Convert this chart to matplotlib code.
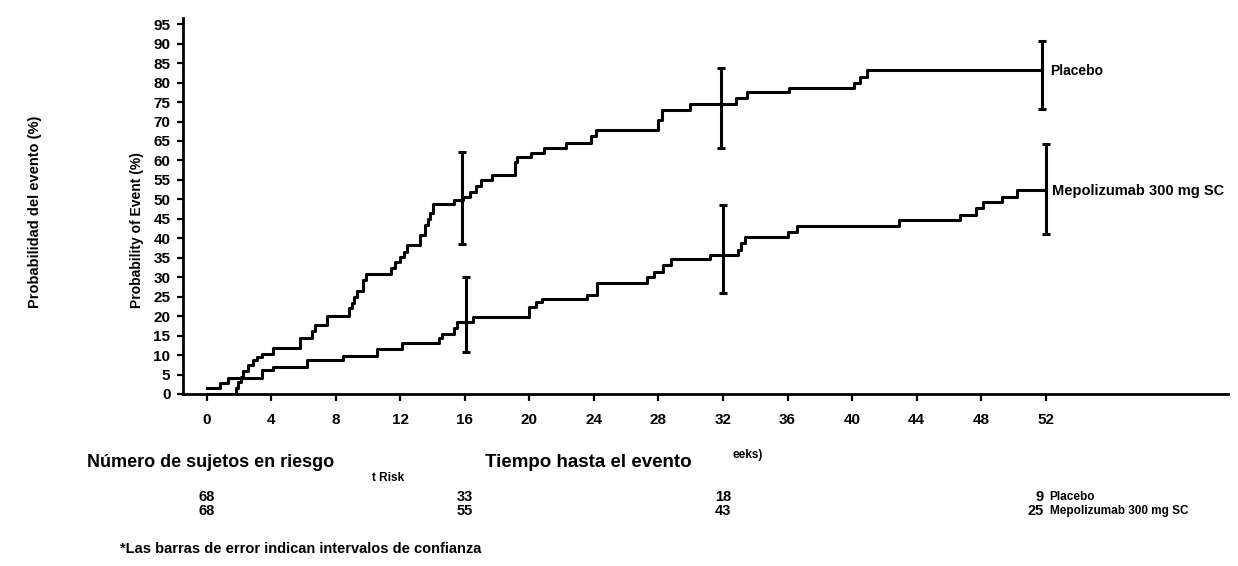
import numpy as np
import matplotlib
matplotlib.use('Agg')
import matplotlib.pyplot as plt
from matplotlib.transforms import blended_transform_factory

plt.rcParams['font.family'] = ['Liberation Sans', 'DejaVu Sans']
plt.rcParams['font.weight'] = 'bold'

# Kaplan-Meier style step curves (weeks, probability of event %)
placebo_t = [0, 1.8, 1.95, 2.1, 2.25, 2.58, 2.89, 3.1, 3.41, 4.13, 5.78, 6.5, 6.7,
             7.43, 8.8, 9.0, 9.15, 9.3, 9.7, 9.9, 11.4, 11.7, 12.0, 12.2, 12.4,
             13.2, 13.5, 13.7, 13.85, 14.05, 15.3, 15.9, 16.3, 16.7, 17.0, 17.66,
             19.1, 19.25, 20.1, 20.9, 22.3, 23.85, 24.1, 28.0, 28.2, 29.95, 32.8,
             33.5, 36.1, 40.1, 40.5, 40.9, 51.8]
placebo_p = [0, 1.5, 3.0, 4.4, 5.9, 7.4, 8.7, 9.6, 10.3, 11.8, 14.5, 16.2, 17.6,
             20.0, 22.0, 23.5, 25.0, 26.5, 29.3, 30.9, 32.4, 34.0, 35.3, 36.6, 38.3,
             40.8, 43.5, 45.0, 46.5, 48.8, 49.8, 50.6, 52.0, 53.5, 55.0, 56.3,
             59.5, 60.8, 62.0, 63.1, 64.6, 66.3, 67.8, 70.4, 73.0, 74.4, 76.0,
             77.5, 78.7, 80.0, 81.5, 83.2, 83.2]

mepo_t = [0, 0.83, 1.34, 3.4, 4.1, 6.2, 8.46, 10.55, 12.1, 14.4, 14.6, 15.3, 15.5,
          16.5, 20.0, 20.4, 20.8, 23.6, 24.2, 27.3, 27.7, 28.3, 28.8, 31.2, 32.9,
          33.1, 33.35, 36.0, 36.6, 42.9, 46.7, 47.7, 48.1, 49.3, 50.2, 51.95]
mepo_p = [1.45, 2.7, 4.0, 6.2, 7.0, 8.7, 9.8, 11.5, 13.0, 14.3, 15.5, 17.0, 18.5,
          19.9, 22.4, 23.7, 24.3, 25.4, 28.6, 30.1, 31.4, 33.1, 34.6, 35.7, 37.0,
          38.7, 40.3, 41.6, 43.2, 44.7, 46.0, 47.7, 49.4, 50.7, 52.4, 52.4]

# confidence intervals
placebo_ci_t = [15.85, 31.85, 51.8]
placebo_ci_mid = [50.3, 74.4, 83.2]
placebo_ci_lo = [38.6, 63.3, 73.2]
placebo_ci_hi = [62.2, 83.7, 90.8]

mepo_ci_t = [16.05, 32.0, 52.0]
mepo_ci_mid = [18.6, 35.7, 52.4]
mepo_ci_lo = [10.8, 25.9, 41.1]
mepo_ci_hi = [30.1, 48.6, 64.2]

# numbers at risk
risk_weeks = [0, 16, 32, 52]
risk_placebo = [68, 33, 18, 9]
risk_mepo = [68, 55, 43, 25]

x_ticks = list(range(0, 53, 4))
y_ticks = list(range(0, 96, 5))

fig = plt.figure(figsize=(12.38, 5.66), dpi=100)
ax = fig.add_axes([0.1478, 0.3039, 0.8441, 0.6643])

ax.step(placebo_t, placebo_p, where='post', color='black', lw=2.2)
ax.step(mepo_t, mepo_p, where='post', color='black', lw=2.2)

for t, mid, lo, hi in [(placebo_ci_t, placebo_ci_mid, placebo_ci_lo, placebo_ci_hi),
                       (mepo_ci_t, mepo_ci_mid, mepo_ci_lo, mepo_ci_hi)]:
    mid = np.array(mid)
    yerr = [mid - np.array(lo), np.array(hi) - mid]
    ax.errorbar(t, mid, yerr=yerr, fmt='none', ecolor='black', elinewidth=2.2,
                capsize=3, capthick=2.2)

ax.text(52.25, 83.0, 'Placebo', fontsize=10, fontweight='bold', va='center', ha='left')
ax.text(52.4, 52.2, 'Mepolizumab 300 mg SC', fontsize=10.5, fontweight='bold',
        va='center', ha='left')

ax.set_xlim(-1.47, 63.3)
ax.set_ylim(0, 96.6)
ax.set_xticks(x_ticks)
ax.set_yticks(y_ticks)
ax.tick_params(axis='both', direction='out', width=1.6, labelsize=11)
ax.tick_params(axis='x', length=5, pad=9)
ax.tick_params(axis='y', length=4, pad=5)
for lab in ax.get_xticklabels() + ax.get_yticklabels():
    lab.set_fontweight('bold')
for s in ['top', 'right']:
    ax.spines[s].set_visible(False)
for s in ['left', 'bottom']:
    ax.spines[s].set_linewidth(2)

fig.text(0.1107, 0.5936, 'Probability of Event (%)', rotation=90, fontsize=10,
         fontweight='bold', ha='center', va='center')
fig.text(0.0283, 0.6254, 'Probabilidad del evento (%)', rotation=90, fontsize=10.5,
         fontweight='bold', ha='center', va='center')

fig.text(0.0703, 0.182, 'Número de sujetos en riesgo', fontsize=13, fontweight='bold',
         ha='left', va='center')
fig.text(0.3005, 0.1555, 't Risk', fontsize=8.5, fontweight='bold', ha='left', va='center')
fig.text(0.3918, 0.182, 'Tiempo hasta el evento', fontsize=13.5, fontweight='bold',
         ha='left', va='center')
fig.text(0.5913, 0.196, 'eeks)', fontsize=8.5, fontweight='bold', ha='left', va='center')

tr = blended_transform_factory(ax.transData, fig.transFigure)
for i, w in enumerate(risk_weeks):
    if w == risk_weeks[-1]:
        ax.text(w - 0.1, 0.1219, str(risk_placebo[i]), transform=tr, fontsize=10.5,
                fontweight='bold', ha='right', va='center')
        ax.text(w - 0.1, 0.0972, str(risk_mepo[i]), transform=tr, fontsize=10.5,
                fontweight='bold', ha='right', va='center')
    else:
        ax.text(w, 0.1219, str(risk_placebo[i]), transform=tr, fontsize=10.5,
                fontweight='bold', ha='center', va='center')
        ax.text(w, 0.0972, str(risk_mepo[i]), transform=tr, fontsize=10.5,
                fontweight='bold', ha='center', va='center')
ax.text(52.25, 0.1219, 'Placebo', transform=tr, fontsize=8.5, fontweight='bold',
        ha='left', va='center')
ax.text(52.25, 0.0972, 'Mepolizumab 300 mg SC', transform=tr, fontsize=8.5,
        fontweight='bold', ha='left', va='center')

fig.text(0.0969, 0.030, '*Las barras de error indican intervalos de confianza',
         fontsize=10.5, fontweight='bold', ha='left', va='center')

fig.savefig('out.png', dpi=100)
